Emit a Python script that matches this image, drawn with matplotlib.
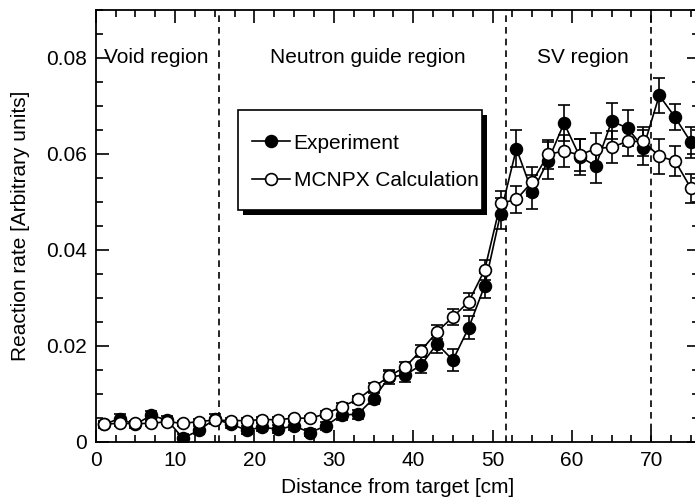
import numpy as np
import matplotlib
matplotlib.use("Agg")
import matplotlib.pyplot as plt
from matplotlib.ticker import MultipleLocator
from matplotlib.patches import Rectangle

plt.rcParams['font.family'] = ['Liberation Sans', 'DejaVu Sans']
plt.rcParams['font.size'] = 15

# distance from target [cm]
dist = [1, 3, 5, 7, 9, 11, 13, 15, 17, 19, 21, 23, 25, 27, 29, 31, 33, 35, 37,
        39, 41, 43, 45, 47, 49, 51, 53, 55, 57, 59, 61, 63, 65, 67, 69, 71, 73, 75]

exp_rate = [0.0036, 0.0048, 0.0036, 0.0055, 0.0045, 0.0007, 0.0024, 0.0047, 0.0037, 0.0024,
            0.0030, 0.0026, 0.0033, 0.0019, 0.0033, 0.0056, 0.0057, 0.0090, 0.0135,
            0.0139, 0.0160, 0.0204, 0.0170, 0.0238, 0.0325, 0.0475, 0.0611, 0.0520,
            0.0586, 0.0664, 0.0594, 0.0575, 0.0668, 0.0654, 0.0613, 0.0722, 0.0676, 0.0624]
exp_err = [0.0008, 0.0010, 0.0008, 0.0010, 0.0009, 0.0008, 0.0008, 0.0010, 0.0008, 0.0008,
           0.0008, 0.0008, 0.0008, 0.0008, 0.0009, 0.0010, 0.0010, 0.0012, 0.0014,
           0.0015, 0.0017, 0.0019, 0.0023, 0.0024, 0.0026, 0.0032, 0.0038, 0.0035,
           0.0038, 0.0038, 0.0038, 0.0036, 0.0038, 0.0037, 0.0036, 0.0037, 0.0027, 0.0033]

calc_rate = [0.0037, 0.0038, 0.0038, 0.0038, 0.0042, 0.0038, 0.0042, 0.0045, 0.0044, 0.0044,
             0.0046, 0.0046, 0.0049, 0.0049, 0.0058, 0.0073, 0.0088, 0.0113, 0.0137,
             0.0156, 0.0190, 0.0229, 0.0260, 0.0292, 0.0358, 0.0497, 0.0505, 0.0542,
             0.0599, 0.0606, 0.0598, 0.0611, 0.0614, 0.0626, 0.0626, 0.0595, 0.0585, 0.0528]
calc_err = [0.0005, 0.0005, 0.0005, 0.0005, 0.0005, 0.0005, 0.0005, 0.0005, 0.0005, 0.0005,
            0.0005, 0.0005, 0.0005, 0.0005, 0.0006, 0.0007, 0.0008, 0.0009, 0.0010,
            0.0011, 0.0012, 0.0014, 0.0016, 0.0018, 0.0020, 0.0025, 0.0028, 0.0030,
            0.0030, 0.0033, 0.0033, 0.0033, 0.0033, 0.0031, 0.0031, 0.0036, 0.0031, 0.0030]

region_bounds = [15.5, 51.7, 70.0]
region_names = ["Void region", "Neutron guide region", "SV region"]
region_pos = [7.6, 34.3, 61.4]

fig = plt.figure(figsize=(6.95, 4.97), dpi=100)
ax = fig.add_axes([0.1377, 0.1113, 0.868, 0.8686])

ax.errorbar(dist, exp_rate, yerr=exp_err, fmt='none', ecolor='black', elinewidth=1.2,
            capsize=4.5, capthick=1.2, zorder=2)
ax.plot(dist, exp_rate, '-o', color='black', lw=1.2, ms=8.5, mfc='black', mec='black',
        mew=1.2, label='Experiment', zorder=3)
ax.errorbar(dist, calc_rate, yerr=calc_err, fmt='none', ecolor='black', elinewidth=1.2,
            capsize=4.5, capthick=1.2, zorder=4)
ax.plot(dist, calc_rate, '-o', color='black', lw=1.2, ms=8.5, mfc='white', mec='black',
        mew=1.2, label='MCNPX Calculation', zorder=5)

for b in region_bounds:
    ax.axvline(b, color='black', lw=1.2, ls=(0, (4, 3)), zorder=1)
for name, xp in zip(region_names, region_pos):
    ax.text(xp, 0.08, name, ha='center', va='center', fontsize=15)

ax.set_xlim(0, 76)
ax.set_ylim(0, 0.09)
ax.xaxis.set_major_locator(MultipleLocator(10))
ax.xaxis.set_minor_locator(MultipleLocator(2.5))
ax.yaxis.set_minor_locator(MultipleLocator(0.005))
ax.set_yticks([0, 0.02, 0.04, 0.06, 0.08])
ax.set_yticklabels(['0', '0.02', '0.04', '0.06', '0.08'])
ax.tick_params(which='both', direction='in', top=True, right=True, width=1.2)
ax.tick_params(which='major', length=9)
ax.tick_params(which='minor', length=5)
ax.tick_params(axis='x', pad=6.5)
ax.tick_params(axis='y', pad=6)
for s in ax.spines.values():
    s.set_linewidth(1.3)

ax.set_xlabel('Distance from target [cm]', labelpad=6)
ax.set_ylabel('Reaction rate [Arbitrary units]', labelpad=12)

# legend box with solid shadow
bx0, bx1, by0, by1 = 0.2359, 0.6403, 0.5367, 0.7684
sdx, sdy = 0.0080, 0.0110
ax.add_patch(Rectangle((bx0 + sdx, by0 - sdy), bx1 - bx0, by1 - by0, transform=ax.transAxes,
                       facecolor='black', edgecolor='black', lw=0, zorder=9))
ax.add_patch(Rectangle((bx0, by0), bx1 - bx0, by1 - by0, transform=ax.transAxes,
                       facecolor='white', edgecolor='black', lw=1.2, zorder=10))
leg = ax.legend(loc='center left', bbox_to_anchor=(0.2591, 0.6479), borderaxespad=0,
                borderpad=0, frameon=False, handlelength=1.8, handletextpad=0.2,
                labelspacing=0.9, fontsize=15)
leg.set_zorder(11)

fig.savefig('out.png', dpi=100)
